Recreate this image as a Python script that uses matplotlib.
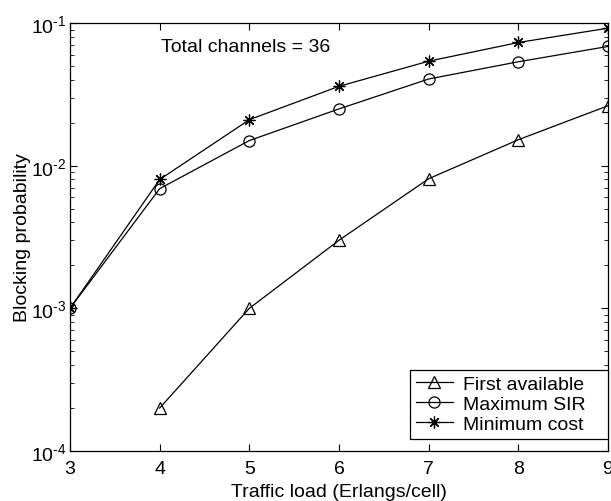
import matplotlib
matplotlib.use('Agg')
import math
import matplotlib.pyplot as plt
from matplotlib.ticker import FuncFormatter

plt.rcParams['font.family'] = ['Liberation Sans', 'DejaVu Sans']
plt.rcParams['mathtext.fontset'] = 'custom'
plt.rcParams['mathtext.rm'] = 'Liberation Sans'

# traffic load (Erlangs/cell)
load_fa = [4, 5, 6, 7, 8, 9]
load_all = [3, 4, 5, 6, 7, 8, 9]

# blocking probability per scheme
first_available = [2.0e-4, 1.0e-3, 3.0e-3, 8.1e-3, 1.52e-2, 2.63e-2]
maximum_sir = [1.0e-3, 6.9e-3, 1.5e-2, 2.5e-2, 4.05e-2, 5.35e-2, 6.85e-2]
minimum_cost = [1.0e-3, 8.0e-3, 2.1e-2, 3.6e-2, 5.4e-2, 7.3e-2, 9.2e-2]

x_ticks = [3, 4, 5, 6, 7, 8, 9]

fs = 14


def pow10(v, pos):
    # MATLAB style label, short hyphen in the exponent
    e = int(round(math.log10(v)))
    return r'$\mathdefault{10^{\text{-}%d}}$' % (-e)


fig = plt.figure(figsize=(6.11, 5.02), dpi=100)
ax = fig.add_axes([70 / 611, 50 / 502, 538 / 611, 428 / 502])

style = dict(color='black', linewidth=0.9, markerfacecolor='none',
             markeredgecolor='black', markeredgewidth=0.9)
ax.semilogy(load_fa, first_available, marker='^', markersize=8.5,
            label='First available', **style)
ax.semilogy(load_all, maximum_sir, marker='o', markersize=8,
            label='Maximum SIR', **style)
ax.semilogy(load_all, minimum_cost, marker=(8, 2, 0), markersize=8.5,
            label='Minimum cost', **style)

ax.set_xlim(3, 9)
ax.set_ylim(1e-4, 1e-1)
ax.set_xticks(x_ticks)
ax.yaxis.set_major_formatter(FuncFormatter(pow10))
ax.tick_params(which='both', direction='in', top=True, right=True,
               labelsize=fs)
ax.tick_params(which='major', length=5)
ax.tick_params(which='minor', length=3)
ax.tick_params(axis='x', which='major', pad=6.5)
ax.tick_params(axis='y', which='major', pad=2.5)
for s in ax.spines.values():
    s.set_linewidth(0.9)

ax.set_xlabel('Traffic load (Erlangs/cell)', fontsize=fs, labelpad=4)
ax.set_ylabel('Blocking probability', fontsize=fs, labelpad=0)
ax.text(4.02, 0.068, 'Total channels = 36', fontsize=fs, va='center')

# legend box spans roughly x 410..609 px, y 372..440 px
leg = ax.legend(loc='lower left', bbox_to_anchor=(0.632, 0.028, 0.368, 0.16),
                mode='expand', fontsize=fs, fancybox=False, edgecolor='black',
                framealpha=1, handlelength=1.9, borderaxespad=0,
                labelspacing=0.12, borderpad=0.3, handletextpad=0.55)
leg.get_frame().set_linewidth(0.9)

fig.savefig('out.png', dpi=100)
